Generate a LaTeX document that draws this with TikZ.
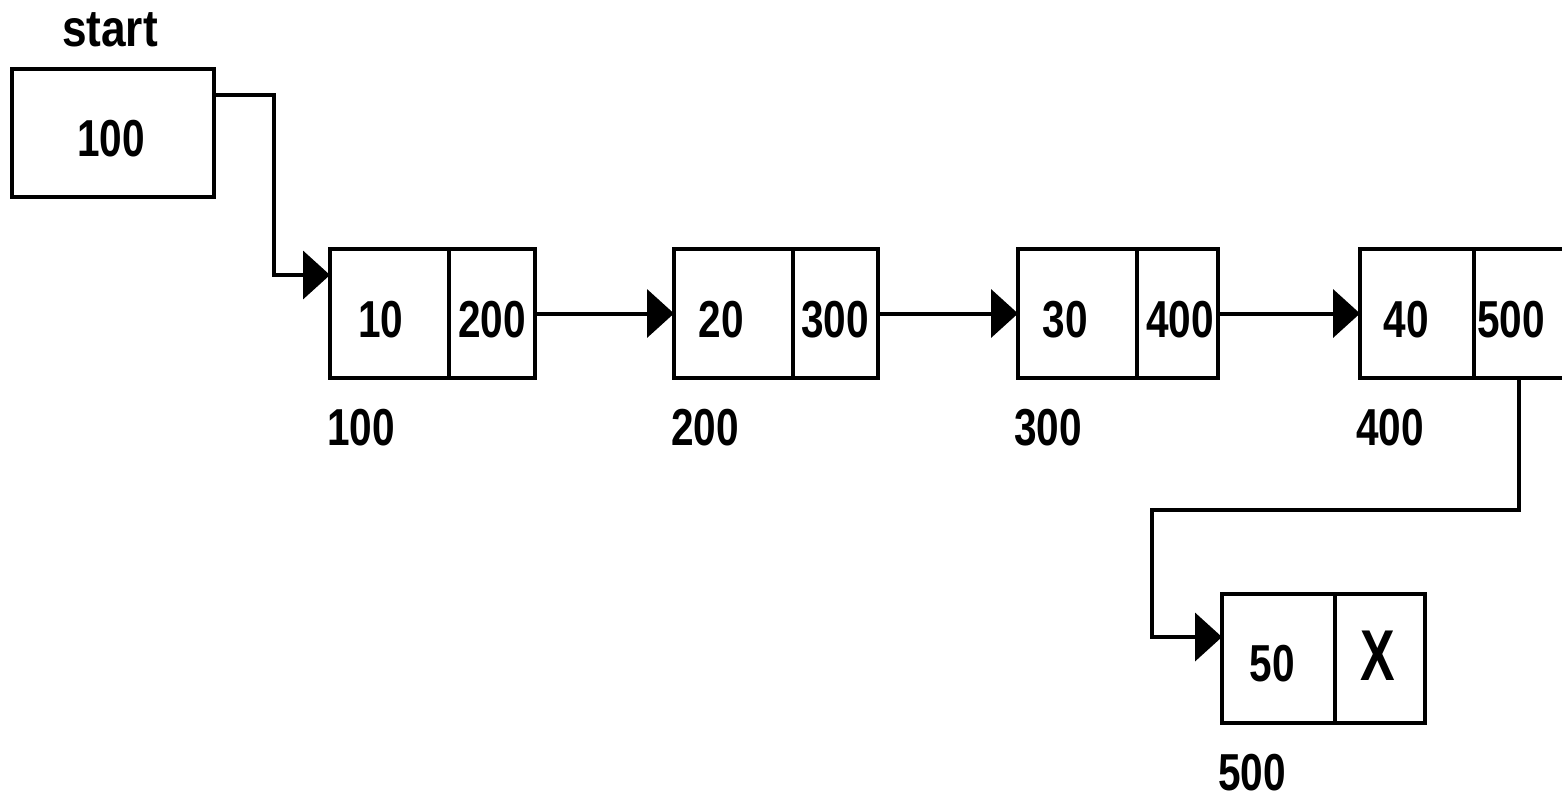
\documentclass[tikz,border=0pt]{standalone}
\usepackage{fontspec}
\setmainfont{Liberation Sans}
\usepackage{graphicx}
\usetikzlibrary{arrows.meta}
\newcommand\nar[2][0.78]{\scalebox{#1}[1]{#2}}
\tikzset{
  cellbox/.style={draw, line width=4pt, inner sep=0pt, outer sep=0pt, anchor=north west},
  datacell/.style={cellbox, minimum width=119pt, minimum height=129pt},
  ptrcell/.style={cellbox, minimum width=86pt, minimum height=129pt},
  txt/.style={inner sep=0pt, outer sep=0pt, font=\fontsize{52}{52}\selectfont\bfseries},
  bigtxt/.style={inner sep=0pt, outer sep=0pt, font=\fontsize{72}{72}\selectfont\bfseries},
  link/.style={line width=4pt, -{Triangle[length=27pt,width=48pt]}},
}
\begin{document}
\begin{tikzpicture}[x=1pt,y=-1pt]
\useasboundingbox (0,0) rectangle (1562,796);
\clip (0,0) rectangle (1562,796);

% start pointer
\node[txt] (startlbl) at (110,30) {\nar[0.85]{start}};
\node[cellbox, minimum width=202pt, minimum height=128pt] (start) at (12,69) {};
\node[txt] (starttxt) at (111,139) {\nar{100}};

% node 1
\node[datacell] (n1d) at (330,249) {};
\node[ptrcell]  (n1p) at (449,249) {};
\node[txt] (t1d) at (381,320) {\nar{10}};
\node[txt] (t1p) at (492,320) {\nar{200}};
\node[txt] (a1) at (361,428) {\nar{100}};

% node 2
\node[datacell, minimum width=119pt] (n2d) at (674,249) {};
\node[ptrcell, minimum width=85pt]  (n2p) at (793,249) {};
\node[txt] (t2d) at (721,320) {\nar{20}};
\node[txt] (t2p) at (835,320) {\nar{300}};
\node[txt] (a2) at (705,428) {\nar{200}};

% node 3
\node[datacell, minimum width=119pt] (n3d) at (1018,249) {};
\node[ptrcell, minimum width=81pt]  (n3p) at (1137,249) {};
\node[txt] (t3d) at (1065,320) {\nar{30}};
\node[txt] (t3p) at (1180,320) {\nar{400}};
\node[txt] (a3) at (1048,428) {\nar{300}};

% node 4
\node[datacell, minimum width=114pt] (n4d) at (1360,249) {};
\node[ptrcell, minimum width=90pt]  (n4p) at (1474,249) {};
\node[txt] (t4d) at (1406,320) {\nar{40}};
\node[txt] (t4p) at (1511,320) {\nar{500}};
\node[txt] (a4) at (1390,428) {\nar{400}};

% node 5
\node[datacell, minimum width=113pt] (n5d) at (1222,594) {};
\node[ptrcell, minimum width=90pt]  (n5p) at (1335,594) {};
\node[txt] (t5d) at (1272,664) {\nar{50}};
\node[bigtxt] (t5p) at (1378,656) {\nar[0.72]{X}};
\node[txt] (a5) at (1252,773) {\nar{500}};

% connectors
\coordinate (s1) at (214,95);
\coordinate (k0) at (274,275);
\coordinate (e1) at (330,275);
\draw[link] (s1) -| (k0) -- (e1);

\draw[link] (n1p.east) -- (n2d.west);
\draw[link] (n2p.east) -- (n3d.west);
\draw[link] (n3p.east) -- (n4d.west);

\coordinate (k1) at (1152,510);
\coordinate (e5) at (1222,637);
\draw[link] (n4p.south) |- (k1) |- (e5);
\end{tikzpicture}
\end{document}
